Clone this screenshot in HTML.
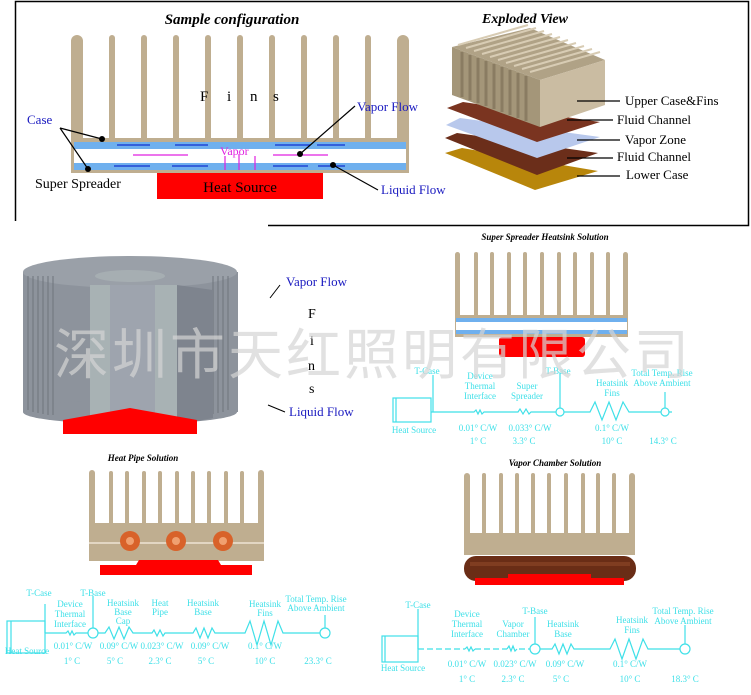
<!DOCTYPE html>
<html><head><meta charset="utf-8"><style>
html,body{margin:0;padding:0;background:#fff;}
svg{display:block;font-family:"Liberation Serif",serif;}
.c{fill:#3fe0e8;font-size:9px;text-anchor:middle;}
.cl{stroke:#3fe0e8;stroke-width:1.2;fill:none;}
.t{fill:#bfae90;}
</style></head><body>
<svg width="751" height="695" viewBox="0 0 751 695" xmlns="http://www.w3.org/2000/svg">
<!-- top frame -->
<path d="M15.5 221 V1.5 H748.5 V225.5 H268" stroke="#000" stroke-width="1.5" fill="none"/>

<!-- Sample configuration -->
<text x="232" y="24" font-size="15" font-weight="bold" font-style="italic" text-anchor="middle">Sample configuration</text>
<g class="t">
<rect x="71" y="35" width="12" height="138" rx="6"/>
<rect x="397" y="35" width="12" height="138" rx="6"/>
<rect x="109" y="35" width="6" height="110" rx="3"/>
<rect x="141" y="35" width="6" height="110" rx="3"/>
<rect x="173" y="35" width="6" height="110" rx="3"/>
<rect x="205" y="35" width="6" height="110" rx="3"/>
<rect x="237" y="35" width="6" height="110" rx="3"/>
<rect x="269" y="35" width="6" height="110" rx="3"/>
<rect x="301" y="35" width="6" height="110" rx="3"/>
<rect x="333" y="35" width="6" height="110" rx="3"/>
<rect x="365" y="35" width="6" height="110" rx="3"/>
<rect x="71" y="138" width="338" height="35"/>
</g>
<rect x="74" y="142" width="332" height="7" fill="#6fb0ee"/>
<rect x="74" y="149" width="332" height="14" fill="#fff"/>
<rect x="74" y="163" width="332" height="7" fill="#6fb0ee"/>
<rect x="157" y="173" width="166" height="26" fill="#f00"/>
<text x="240" y="192" font-size="15" text-anchor="middle">Heat Source</text>
<text x="200" y="101" font-size="15">F</text><text x="227" y="101" font-size="15">i</text><text x="250" y="101" font-size="15">n</text><text x="273" y="101" font-size="15">s</text>
<g stroke="#1030d0" stroke-width="1.2">
<path d="M117 145 H150 M175 145 H208 M275 145 H310 M317 145 H345 M114 166 H150 M172 166 H208 M273 166 H308 M318 166 H345"/>
</g>
<g stroke="#e020e0" stroke-width="1.2" fill="none">
<path d="M133 155 H188 M273 155 H328 M225 170 V156 M239 170 V154 M255 170 V156"/>
</g>
<text x="220" y="155" font-size="12" fill="#e020e0">Vapor</text>
<g stroke="#000" stroke-width="1.2">
<path d="M60 128 L102 139 M60 128 L88 169 M355 106 L300 154 M333 165 L378 190"/>
</g>
<g fill="#000"><circle cx="102" cy="139" r="3"/><circle cx="88" cy="169" r="3"/><circle cx="300" cy="154" r="3"/><circle cx="333" cy="165" r="3"/></g>
<text x="27" y="124" font-size="13" fill="#1a1ac0">Case</text>
<text x="35" y="188" font-size="14">Super Spreader</text>
<text x="357" y="111" font-size="13" fill="#1a1ac0">Vapor Flow</text>
<text x="381" y="194" font-size="13" fill="#1a1ac0">Liquid Flow</text>

<!-- Exploded View -->
<text x="525" y="23" font-size="14" font-weight="bold" font-style="italic" text-anchor="middle">Exploded View</text>
<polygon points="445,153 462,148 598,171 535,190" fill="#b8860b"/>
<polygon points="445,138 457,133 598,153 537,175" fill="#6b2e1a"/>
<polygon points="446,125 460,118 600,137 537,158" fill="#b8c8ec"/>
<polygon points="447,108 463,102 600,122 537,142" fill="#7a3420"/>
<polygon points="452,47 530,28 605,60 540,80" fill="#b0a286"/>
<polygon points="452,47 540,80 540,127 452,95" fill="#a49679"/>
<polygon points="540,80 605,60 605,105 540,127" fill="#cabca2"/>
<g stroke="#8a7c62" stroke-width="3">
<path d="M462 52 V97 M470 55 V100 M478 58 V103 M486 61 V106 M494 64 V109 M502 67 V112 M510 70 V115 M518 73 V118 M526 76 V121"/>
</g>
<g stroke="#d8ccb4" stroke-width="2">
<path d="M458 45 L528 25 M466 48 L536 28 M474 51 L544 31 M482 54 L552 34 M490 57 L560 37 M498 60 L568 40 M506 63 L576 43 M514 66 L584 46 M522 69 L592 49 M530 72 L600 52"/>
</g>
<g stroke="#000" stroke-width="1.2"><path d="M577 101 H620 M567 120 H613 M577 140 H620 M567 158 H613 M577 176 H620"/></g>
<g font-size="13"><text x="625" y="105">Upper Case&amp;Fins</text><text x="617" y="124">Fluid Channel</text><text x="625" y="144">Vapor Zone</text><text x="617" y="161">Fluid Channel</text><text x="626" y="179">Lower Case</text></g>

<!-- cylinder heatsink -->
<rect x="23" y="272" width="215" height="140" fill="#8d939c"/>
<ellipse cx="130" cy="272" rx="107" ry="16" fill="#9aa0a8"/>
<ellipse cx="130" cy="412" rx="107" ry="12" fill="#8d939c"/>
<g stroke="#6e747c" stroke-width="1"><path d="M28 276 V410 M33 276 V412 M38 276 V413 M43 276 V414 M48 276 V415 M53 276 V415 M228 276 V410 M223 276 V412 M218 276 V413 M213 276 V414"/></g>
<polygon points="90,285 177,285 177,425 90,425" fill="#a8b2b4"/>
<rect x="110" y="285" width="45" height="128" fill="#9ea4ae"/>
<polygon points="177,285 213,290 213,418 177,425" fill="#7e848e"/>
<polygon points="63,420 130,408 197,420 197,434 63,434" fill="#f00"/>
<ellipse cx="130" cy="276" rx="35" ry="6" fill="#a6aeb2"/>
<g stroke="#000" stroke-width="1"><path d="M270 298 L280 285 M268 405 L285 412"/></g>
<text x="286" y="286" font-size="13" fill="#1a1ac0">Vapor Flow</text>
<text x="289" y="416" font-size="13" fill="#1a1ac0">Liquid Flow</text>
<g font-size="14"><text x="308" y="318">F</text><text x="310" y="345">i</text><text x="308" y="370">n</text><text x="309" y="393">s</text></g>

<!-- Super Spreader Heatsink Solution -->
<text x="545" y="240" font-size="9" font-weight="bold" font-style="italic" text-anchor="middle">Super Spreader Heatsink Solution</text>
<g class="t">
<rect x="455" y="252" width="5" height="85" rx="2.5"/><rect x="623" y="252" width="5" height="85" rx="2.5"/>
<rect x="474" y="252" width="4" height="70" rx="2"/><rect x="490" y="252" width="4" height="70" rx="2"/><rect x="507" y="252" width="4" height="70" rx="2"/><rect x="523" y="252" width="4" height="70" rx="2"/><rect x="540" y="252" width="4" height="70" rx="2"/><rect x="557" y="252" width="4" height="70" rx="2"/><rect x="573" y="252" width="4" height="70" rx="2"/><rect x="590" y="252" width="4" height="70" rx="2"/><rect x="606" y="252" width="4" height="70" rx="2"/>
<rect x="455" y="315" width="173" height="22"/>
</g>
<rect x="456" y="318" width="171" height="4" fill="#6fb0ee"/>
<rect x="456" y="322" width="171" height="8" fill="#fff"/>
<rect x="456" y="330" width="171" height="4" fill="#6fb0ee"/>
<rect x="499" y="337" width="86" height="20" rx="3" fill="#f00"/>

<!-- Circuit 1 -->
<rect x="393" y="398" width="38" height="24" class="cl"/><path d="M396 398 V422" class="cl"/>
<path class="cl" d="M431 412 H474 l2 -2 l2 4 l2 -4 l2 4 l2 -2 H518 l2 -3 l3 5 l3 -5 l3 5 l2 -2 H556 M564 412 H590 l5 -10 l7 18 l7 -18 l7 18 l7 -18 l6 10 H661 M669 412 H672 M433 375 V412 M560 373 V408 M665 392 V408"/>
<circle cx="560" cy="412" r="4" class="cl"/><circle cx="665" cy="412" r="4" class="cl"/>
<text class="c" x="427" y="374">T-Case</text>
<text class="c" x="480" y="379">Device</text><text class="c" x="480" y="389">Thermal</text><text class="c" x="480" y="399">Interface</text>
<text class="c" x="527" y="389">Super</text><text class="c" x="527" y="399">Spreader</text>
<text class="c" x="558" y="374">T-Base</text>
<text class="c" x="612" y="386">Heatsink</text><text class="c" x="612" y="396">Fins</text>
<text class="c" x="662" y="376">Total Temp. Rise</text><text class="c" x="662" y="386">Above Ambient</text>
<text class="c" x="414" y="433">Heat Source</text>
<text class="c" x="478" y="431">0.01° C/W</text><text class="c" x="530" y="431">0.033° C/W</text><text class="c" x="612" y="431">0.1° C/W</text>
<text class="c" x="478" y="444">1° C</text><text class="c" x="524" y="444">3.3° C</text><text class="c" x="612" y="444">10° C</text><text class="c" x="663" y="444">14.3° C</text>

<!-- Heat Pipe Solution -->
<text x="143" y="461" font-size="9" font-weight="bold" font-style="italic" text-anchor="middle">Heat Pipe Solution</text>
<g class="t">
<rect x="89" y="470" width="6" height="91" rx="3"/><rect x="258" y="470" width="6" height="91" rx="3"/>
<rect x="109" y="471" width="4" height="55" rx="2"/><rect x="125" y="471" width="4" height="55" rx="2"/><rect x="142" y="471" width="4" height="55" rx="2"/><rect x="158" y="471" width="4" height="55" rx="2"/><rect x="175" y="471" width="4" height="55" rx="2"/><rect x="191" y="471" width="4" height="55" rx="2"/><rect x="207" y="471" width="4" height="55" rx="2"/><rect x="224" y="471" width="4" height="55" rx="2"/><rect x="240" y="471" width="4" height="55" rx="2"/>
<rect x="89" y="523" width="175" height="38"/>
</g>
<path d="M89 543 H264" stroke="#eee4d4" stroke-width="1.5"/>
<g fill="#d8622a"><circle cx="130" cy="541" r="10"/><circle cx="176" cy="541" r="10"/><circle cx="223" cy="541" r="10"/></g>
<g fill="#f0a070"><circle cx="130" cy="541" r="4"/><circle cx="176" cy="541" r="4"/><circle cx="223" cy="541" r="4"/></g>
<path d="M100 575 V565 H136 L139 560 H218 L221 565 H252 V575 Z" fill="#f00"/>

<!-- Circuit 2 -->
<rect x="7" y="621" width="38" height="32" class="cl"/><path d="M11 621 V653" class="cl"/>
<path class="cl" d="M45 633 H66 l2 -2 l2 4 l2 -4 l2 4 l2 -2 H88 M98 633 H105 l4 -6 l5 12 l5 -12 l5 12 l5 -12 l4 6 H152 l2 -3 l3 6 l3 -6 l3 6 l2 -3 H193 l3 -5 l4 10 l4 -10 l4 10 l4 -10 l3 5 H245 l5 -12 l7 24 l7 -24 l7 24 l7 -24 l5 12 H320 M45 604 V633 M93 596 V628 M325 615 V628"/>
<circle cx="93" cy="633" r="5" class="cl"/><circle cx="325" cy="633" r="5" class="cl"/>
<text class="c" x="39" y="596">T-Case</text><text class="c" x="93" y="596">T-Base</text>
<text class="c" x="70" y="607">Device</text><text class="c" x="70" y="617">Thermal</text><text class="c" x="70" y="627">Interface</text>
<text class="c" x="123" y="606">Heatsink</text><text class="c" x="123" y="615">Base</text><text class="c" x="123" y="624">Cap</text>
<text class="c" x="160" y="606">Heat</text><text class="c" x="160" y="615">Pipe</text>
<text class="c" x="203" y="606">Heatsink</text><text class="c" x="203" y="615">Base</text>
<text class="c" x="265" y="607">Heatsink</text><text class="c" x="265" y="616">Fins</text>
<text class="c" x="316" y="602">Total Temp. Rise</text><text class="c" x="316" y="611">Above Ambient</text>
<text class="c" x="27" y="654">Heat Source</text>
<text class="c" x="73" y="649">0.01° C/W</text><text class="c" x="119" y="649">0.09° C/W</text><text class="c" x="162" y="649">0.023° C/W</text><text class="c" x="210" y="649">0.09° C/W</text><text class="c" x="265" y="649">0.1° C/W</text>
<text class="c" x="72" y="664">1° C</text><text class="c" x="115" y="664">5° C</text><text class="c" x="160" y="664">2.3° C</text><text class="c" x="206" y="664">5° C</text><text class="c" x="265" y="664">10° C</text><text class="c" x="318" y="664">23.3° C</text>

<!-- Vapor Chamber Solution -->
<text x="555" y="466" font-size="9" font-weight="bold" font-style="italic" text-anchor="middle">Vapor Chamber Solution</text>
<g class="t">
<rect x="464" y="473" width="6" height="82" rx="3"/><rect x="629" y="473" width="6" height="82" rx="3"/>
<rect x="482" y="473" width="4" height="62" rx="2"/><rect x="499" y="473" width="4" height="62" rx="2"/><rect x="515" y="473" width="4" height="62" rx="2"/><rect x="531" y="473" width="4" height="62" rx="2"/><rect x="547" y="473" width="4" height="62" rx="2"/><rect x="564" y="473" width="4" height="62" rx="2"/><rect x="581" y="473" width="4" height="62" rx="2"/><rect x="596" y="473" width="4" height="62" rx="2"/><rect x="612" y="473" width="4" height="62" rx="2"/>
<rect x="464" y="533" width="171" height="22"/>
</g>
<path d="M508 578 L510 572 H589 L591 578 Z" fill="#f00"/>
<rect x="464" y="556" width="172" height="25" rx="12" fill="#6a2d16"/>
<rect x="470" y="562" width="160" height="4" fill="#8a4426" opacity="0.7"/>
<rect x="475" y="578" width="149" height="7" fill="#f00"/>
<rect x="508" y="574" width="83" height="6" fill="#f00"/>

<!-- Circuit 3 -->
<rect x="382" y="636" width="36" height="26" class="cl"/><path d="M385 636 V662" class="cl"/>
<path class="cl" stroke-dasharray="6,3" d="M418 649 H465 M475 649 H507 M519 649 H530"/>
<path class="cl" d="M465 649 l2 -2 l2 4 l2 -4 l2 4 l2 -2 M507 649 l2 -3 l2 5 l2 -5 l2 5 l2 -2 M540 649 H552 l3 -5 l4 10 l4 -10 l4 10 l4 -10 l3 5 H610 l5 -10 l7 20 l7 -20 l7 20 l7 -20 l5 10 H680 M418 609 V649 M535 617 V644 M685 625 V644"/>
<circle cx="535" cy="649" r="5" class="cl"/><circle cx="685" cy="649" r="5" class="cl"/>
<text class="c" x="418" y="608">T-Case</text>
<text class="c" x="467" y="617">Device</text><text class="c" x="467" y="627">Thermal</text><text class="c" x="467" y="637">Interface</text>
<text class="c" x="513" y="627">Vapor</text><text class="c" x="513" y="637">Chamber</text>
<text class="c" x="535" y="614">T-Base</text>
<text class="c" x="563" y="627">Heatsink</text><text class="c" x="563" y="637">Base</text>
<text class="c" x="632" y="623">Heatsink</text><text class="c" x="632" y="633">Fins</text>
<text class="c" x="683" y="614">Total Temp. Rise</text><text class="c" x="683" y="624">Above Ambient</text>
<text class="c" x="403" y="671">Heat Source</text>
<text class="c" x="467" y="667">0.01° C/W</text><text class="c" x="515" y="667">0.023° C/W</text><text class="c" x="565" y="667">0.09° C/W</text><text class="c" x="630" y="667">0.1° C/W</text>
<text class="c" x="467" y="682">1° C</text><text class="c" x="513" y="682">2.3° C</text><text class="c" x="561" y="682">5° C</text><text class="c" x="630" y="682">10° C</text><text class="c" x="685" y="682">18.3° C</text>

<!-- watermark -->
<text x="373" y="374" font-size="55" text-anchor="middle" fill="#d4d4d4" fill-opacity="0.7" letter-spacing="3" font-family="'Noto Sans CJK SC',sans-serif">深圳市天红照明有限公司</text>
</svg>
</body></html>
